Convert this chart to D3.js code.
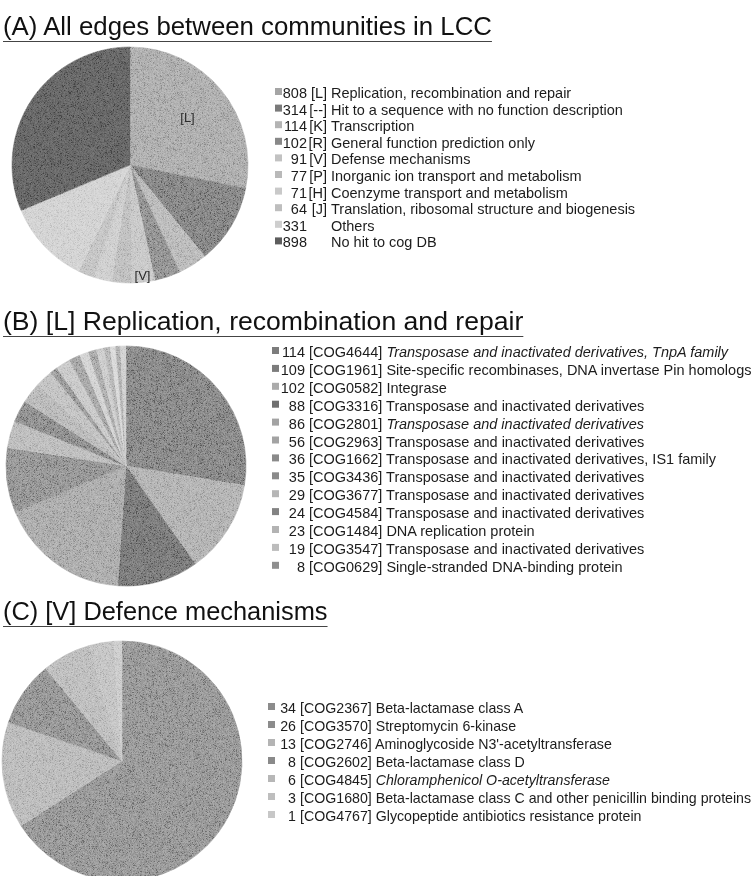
<!DOCTYPE html>
<html>
<head>
<meta charset="utf-8">
<script src="https://cdn.jsdelivr.net/npm/d3@7/dist/d3.min.js"></script>
<style>
  html, body { margin: 0; padding: 0; background: #fff; }
  svg { display: block; font-family: "Liberation Sans", Arial, sans-serif; }
  .grain { mix-blend-mode: overlay; }
</style>
</head>
<body>
<svg id="chart" width="755" height="876"></svg>
<script>
// ---- (A) all edges between communities in the LCC, by COG category ----
const aCounts = [808, 314, 114, 102, 91, 77, 71, 64, 331, 898];
const aCodes  = ["[L]", "[--]", "[K]", "[R]", "[V]", "[P]", "[H]", "[J]", "", ""];
const aNames  = [
  "Replication, recombination and repair",
  "Hit to a sequence with no function description",
  "Transcription",
  "General function prediction only",
  "Defense mechanisms",
  "Inorganic ion transport and metabolism",
  "Coenzyme transport and metabolism",
  "Translation, ribosomal structure and biogenesis",
  "Others",
  "No hit to cog DB"
];
const aFills = ["#a5a5a5", "#7a7a7a", "#b4b4b4", "#888888", "#c2c2c2",
                "#b9b9b9", "#c9c9c9", "#bebebe", "#cecece", "#5d5d5d"];

// ---- (B) [L] replication, recombination and repair, by COG ----
const bCounts = [114, 109, 102, 88, 86, 56, 36, 35, 29, 24, 23, 19, 8];
const bCodes  = ["[COG4644]", "[COG1961]", "[COG0582]", "[COG3316]", "[COG2801]",
                 "[COG2963]", "[COG1662]", "[COG3436]", "[COG3677]", "[COG4584]",
                 "[COG1484]", "[COG3547]", "[COG0629]"];
const bNames  = [
  "Transposase and inactivated derivatives, TnpA family",
  "Site-specific recombinases, DNA invertase Pin homologs",
  "Integrase",
  "Transposase and inactivated derivatives",
  "Transposase and inactivated derivatives",
  "Transposase and inactivated derivatives",
  "Transposase and inactivated derivatives, IS1 family",
  "Transposase and inactivated derivatives",
  "Transposase and inactivated derivatives",
  "Transposase and inactivated derivatives",
  "DNA replication protein",
  "Transposase and inactivated derivatives",
  "Single-stranded DNA-binding protein"
];
const bItalic = [true, false, false, false, true, false, false, false, false, false, false, false, false];
// smaller COGs of category L that are drawn in the pie but not listed
const bMinorCounts = [16, 12, 10, 9, 8, 7, 6, 5, 6];
const bFills = ["#7c7c7c", "#7c7c7c", "#ababab", "#707070", "#a3a3a3", "#a3a3a3",
                "#8a8a8a", "#8a8a8a", "#b6b6b6", "#838383", "#b3b3b3", "#bcbcbc", "#8f8f8f"];
const bMinorFills = ["#c4c4c4", "#9d9d9d", "#cfcfcf", "#a3a3a3", "#c8c8c8",
                     "#b0b0b0", "#d6d6d6", "#a8a8a8", "#cccccc"];

// ---- (C) [V] defence mechanisms, by COG ----
const cCounts = [34, 26, 13, 8, 6, 3, 1];
const cCodes  = ["[COG2367]", "[COG3570]", "[COG2746]", "[COG2602]",
                 "[COG4845]", "[COG1680]", "[COG4767]"];
const cNames  = [
  "Beta-lactamase class A",
  "Streptomycin 6-kinase",
  "Aminoglycoside N3'-acetyltransferase",
  "Beta-lactamase class D",
  "Chloramphenicol O-acetyltransferase",
  "Beta-lactamase class C and other penicillin binding proteins",
  "Glycopeptide antibiotics resistance protein"
];
const cItalic = [false, false, false, false, true, false, false];
const cFills = ["#8c8c8c", "#8c8c8c", "#b4b4b4", "#8a8a8a", "#b7b7b7", "#bebebe", "#c7c7c7"];

const titles = [
  "(A) All edges between communities in LCC",
  "(B) [L] Replication, recombination and repair",
  "(C) [V] Defence mechanisms"
];

const svg = d3.select("#chart");
const ink = "#1c1c1c";

// speckled print texture laid over the pies
const defs = svg.append("defs");
const grain = defs.append("filter").attr("id", "noise")
  .attr("x", 0).attr("y", 0).attr("width", 1).attr("height", 1);
grain.append("feTurbulence").attr("type", "fractalNoise")
  .attr("baseFrequency", 1.7).attr("numOctaves", 2).attr("seed", 7).attr("result", "t");
grain.append("feColorMatrix").attr("in", "t").attr("type", "saturate").attr("values", 0).attr("result", "g");
const boost = grain.append("feComponentTransfer").attr("in", "g").attr("result", "c");
["feFuncR", "feFuncG", "feFuncB"].forEach(f =>
  boost.append(f).attr("type", "linear").attr("slope", 3.4).attr("intercept", -1.2));
boost.append("feFuncA").attr("type", "linear").attr("slope", 0).attr("intercept", 1);
grain.append("feComposite").attr("in", "c").attr("in2", "SourceGraphic").attr("operator", "in");

// ---- titles with underline ----
const titleY = [35, 330, 620];
const titleSize = [25.8, 26.6, 25.4];
titles.forEach((t, i) => {
  const txt = svg.append("text")
    .attr("x", 3).attr("y", titleY[i])
    .attr("font-size", titleSize[i]).attr("fill", "#111")
    .text(t);
  const w = txt.node().getComputedTextLength();
  svg.append("line")
    .attr("x1", 3).attr("x2", 3 + w)
    .attr("y1", titleY[i] + 6.5).attr("y2", titleY[i] + 6.5)
    .attr("stroke", "#444").attr("stroke-width", 1.2);
});

// ---- pie drawing ----
function drawPie(cx, cy, r, values, fills, labels) {
  const g = svg.append("g").attr("transform", `translate(${cx},${cy})`);
  const pie = d3.pie().sort(null).value(d => d)(values);
  const arc = d3.arc().innerRadius(0).outerRadius(r);
  const colour = d3.scaleOrdinal().domain(d3.range(values.length)).range(fills);
  g.selectAll("path.slice").data(pie).join("path")
    .attr("class", "slice")
    .attr("d", arc)
    .attr("fill", (d, i) => colour(i))
    .attr("stroke", (d, i) => colour(i))
    .attr("stroke-width", 0.5);
  g.append("circle").attr("class", "grain").attr("r", r + 0.3)
    .attr("fill", "#808080").attr("filter", "url(#noise)").attr("opacity", 0.28);
  if (labels) {
    labels.forEach(l => {
      const p = pie[l.index];
      const lr = d3.arc().innerRadius(r * l.at).outerRadius(r * l.at);
      const [x, y] = lr.centroid(p);
      g.append("text").attr("x", x).attr("y", y)
        .attr("text-anchor", "middle").attr("dominant-baseline", "central")
        .attr("font-size", 13).attr("fill", "#2a2a2a")
        .text(aCodes[l.index]);
    });
  }
}

drawPie(130, 165, 118, aCounts, aFills, [{ index: 0, at: 0.63 }, { index: 4, at: 0.94 }]);
drawPie(126, 466, 120, bCounts.concat(bMinorCounts), bFills.concat(bMinorFills));
drawPie(122, 761, 120, cCounts, cFills);

// ---- legends ----
function drawLegend(opt) {
  const g = svg.append("g");
  const rows = g.selectAll("g.row").data(opt.counts).join("g")
    .attr("class", "row")
    .attr("transform", (d, i) => `translate(0,${opt.y0 + i * opt.dy})`);
  rows.append("rect")
    .attr("x", opt.swatchX).attr("y", -10).attr("width", 7).attr("height", 7)
    .attr("fill", (d, i) => opt.fills[i]);
  rows.append("text")
    .attr("x", opt.countEnd).attr("text-anchor", "end")
    .attr("font-size", opt.fs).attr("fill", ink)
    .text(d => d);
  if (opt.codeEnd) {
    rows.append("text")
      .attr("x", opt.codeEnd).attr("text-anchor", "end")
      .attr("font-size", opt.fs).attr("fill", ink)
      .text((d, i) => opt.codes[i]);
    rows.append("text")
      .attr("x", opt.descX)
      .attr("font-size", opt.fs).attr("fill", ink)
      .text((d, i) => opt.names[i]);
  } else {
    const t = rows.append("text")
      .attr("x", opt.descX)
      .attr("font-size", opt.fs).attr("fill", ink);
    t.append("tspan").text((d, i) => opt.codes[i] + " ");
    t.append("tspan")
      .attr("font-style", (d, i) => opt.italic && opt.italic[i] ? "italic" : "normal")
      .text((d, i) => opt.names[i]);
  }
}

drawLegend({ counts: aCounts, codes: aCodes, names: aNames, fills: aFills,
  y0: 98, dy: 16.6, swatchX: 275, countEnd: 307, codeEnd: 327, descX: 331, fs: 14.5 });
drawLegend({ counts: bCounts, codes: bCodes, names: bNames, fills: bFills, italic: bItalic,
  y0: 357, dy: 17.9, swatchX: 272, countEnd: 305, descX: 309, fs: 14.5 });
drawLegend({ counts: cCounts, codes: cCodes, names: cNames, fills: cFills, italic: cItalic,
  y0: 713, dy: 18, swatchX: 268, countEnd: 296, descX: 300, fs: 14.2 });
</script>
</body>
</html>
